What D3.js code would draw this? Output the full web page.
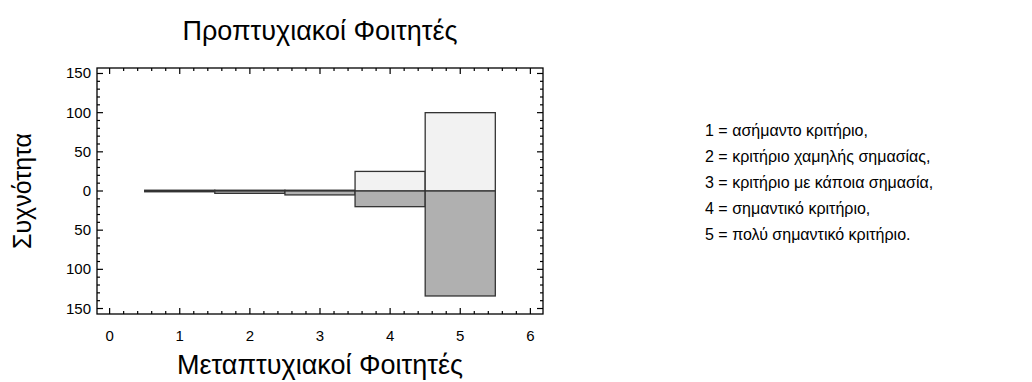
<!DOCTYPE html>
<html><head><meta charset="utf-8">
<script src="https://cdn.jsdelivr.net/npm/d3@7"></script>
<style>body{margin:0;background:#fff}text{font-family:Arial,"Liberation Sans",sans-serif;fill:#000}</style>
</head><body>
<svg id="c" width="1032" height="382"></svg>
<script>
const categories = [1, 2, 3, 4, 5];
const upperValues = [1, 1, 1, 25, 100];   // Προπτυχιακοί Φοιτητές
const lowerValues = [1, 3, 5, 20, 134];   // Μεταπτυχιακοί Φοιτητές
const xTicks = [0, 1, 2, 3, 4, 5, 6];
const yTicks = [-150, -100, -50, 0, 50, 100, 150];
const legendLines = [
  "1 = ασήμαντο κριτήριο,",
  "2 = κριτήριο χαμηλής σημασίας,",
  "3 = κριτήριο με κάποια σημασία,",
  "4 = σημαντικό κριτήριο,",
  "5 = πολύ σημαντικό κριτήριο."
];
const title = "Προπτυχιακοί Φοιτητές";
const xLabel = "Μεταπτυχιακοί Φοιτητές";
const yLabel = "Συχνότητα";

const svg = d3.select("#c");
const L = 97, R = 543, T = 68, B = 314;
const x = d3.scaleLinear().domain([-0.18, 6.18]).range([L, R]);
const y = d3.scaleLinear().domain([-157, 157]).range([B, T]);

// bars
const g = svg.append("g");
g.selectAll("rect.up").data(categories).join("rect")
  .attr("x", d => x(d - 0.5)).attr("width", d => x(d + 0.5) - x(d - 0.5))
  .attr("y", (d, i) => y(upperValues[i])).attr("height", (d, i) => y(0) - y(upperValues[i]))
  .attr("fill", "#f2f2f2").attr("stroke", "#333").attr("stroke-width", 1.3);
g.selectAll("rect.lo").data(categories).join("rect")
  .attr("x", d => x(d - 0.5)).attr("width", d => x(d + 0.5) - x(d - 0.5))
  .attr("y", y(0)).attr("height", (d, i) => y(-lowerValues[i]) - y(0))
  .attr("fill", "#b0b0b0").attr("stroke", "#333").attr("stroke-width", 1.3);

// frame
svg.append("rect").attr("x", L).attr("y", T).attr("width", R - L).attr("height", B - T)
  .attr("fill", "none").attr("stroke", "#000").attr("stroke-width", 1.3);

// ticks (inward, all four sides)
const xMinor = d3.range(0, 6.01, 0.2);
const yMinor = d3.range(-150, 151, 10);
const tk = svg.append("g").attr("stroke", "#000").attr("stroke-width", 1.2);
xMinor.forEach(v => {
  const major = Math.abs(v - Math.round(v)) < 1e-6;
  const len = major ? 6 : 3;
  tk.append("line").attr("x1", x(v)).attr("x2", x(v)).attr("y1", B).attr("y2", B - len);
  tk.append("line").attr("x1", x(v)).attr("x2", x(v)).attr("y1", T).attr("y2", T + len);
});
yMinor.forEach(v => {
  const major = v % 50 === 0;
  const len = major ? 6 : 3;
  tk.append("line").attr("y1", y(v)).attr("y2", y(v)).attr("x1", L).attr("x2", L + len);
  tk.append("line").attr("y1", y(v)).attr("y2", y(v)).attr("x1", R).attr("x2", R - len);
});

// tick labels
svg.append("g").selectAll("text").data(xTicks).join("text")
  .attr("x", d => x(d)).attr("y", B + 27).attr("text-anchor", "middle")
  .attr("font-size", 15).text(d => d);
svg.append("g").selectAll("text").data(yTicks).join("text")
  .attr("x", L - 6).attr("y", d => y(d) + 5).attr("text-anchor", "end")
  .attr("font-size", 15).text(d => Math.abs(d));

// titles
svg.append("text").attr("x", 320).attr("y", 40).attr("text-anchor", "middle")
  .attr("font-size", 27).text(title);
svg.append("text").attr("x", 320).attr("y", 374).attr("text-anchor", "middle")
  .attr("font-size", 27).text(xLabel);
svg.append("text").attr("transform", `translate(31,${(T + B) / 2}) rotate(-90)`)
  .attr("text-anchor", "middle").attr("font-size", 25).text(yLabel);

// legend
svg.append("g").selectAll("text").data(legendLines).join("text")
  .attr("x", 705).attr("y", (d, i) => 136 + i * 26).attr("font-size", 16).text(d => d);
</script>
</body></html>
